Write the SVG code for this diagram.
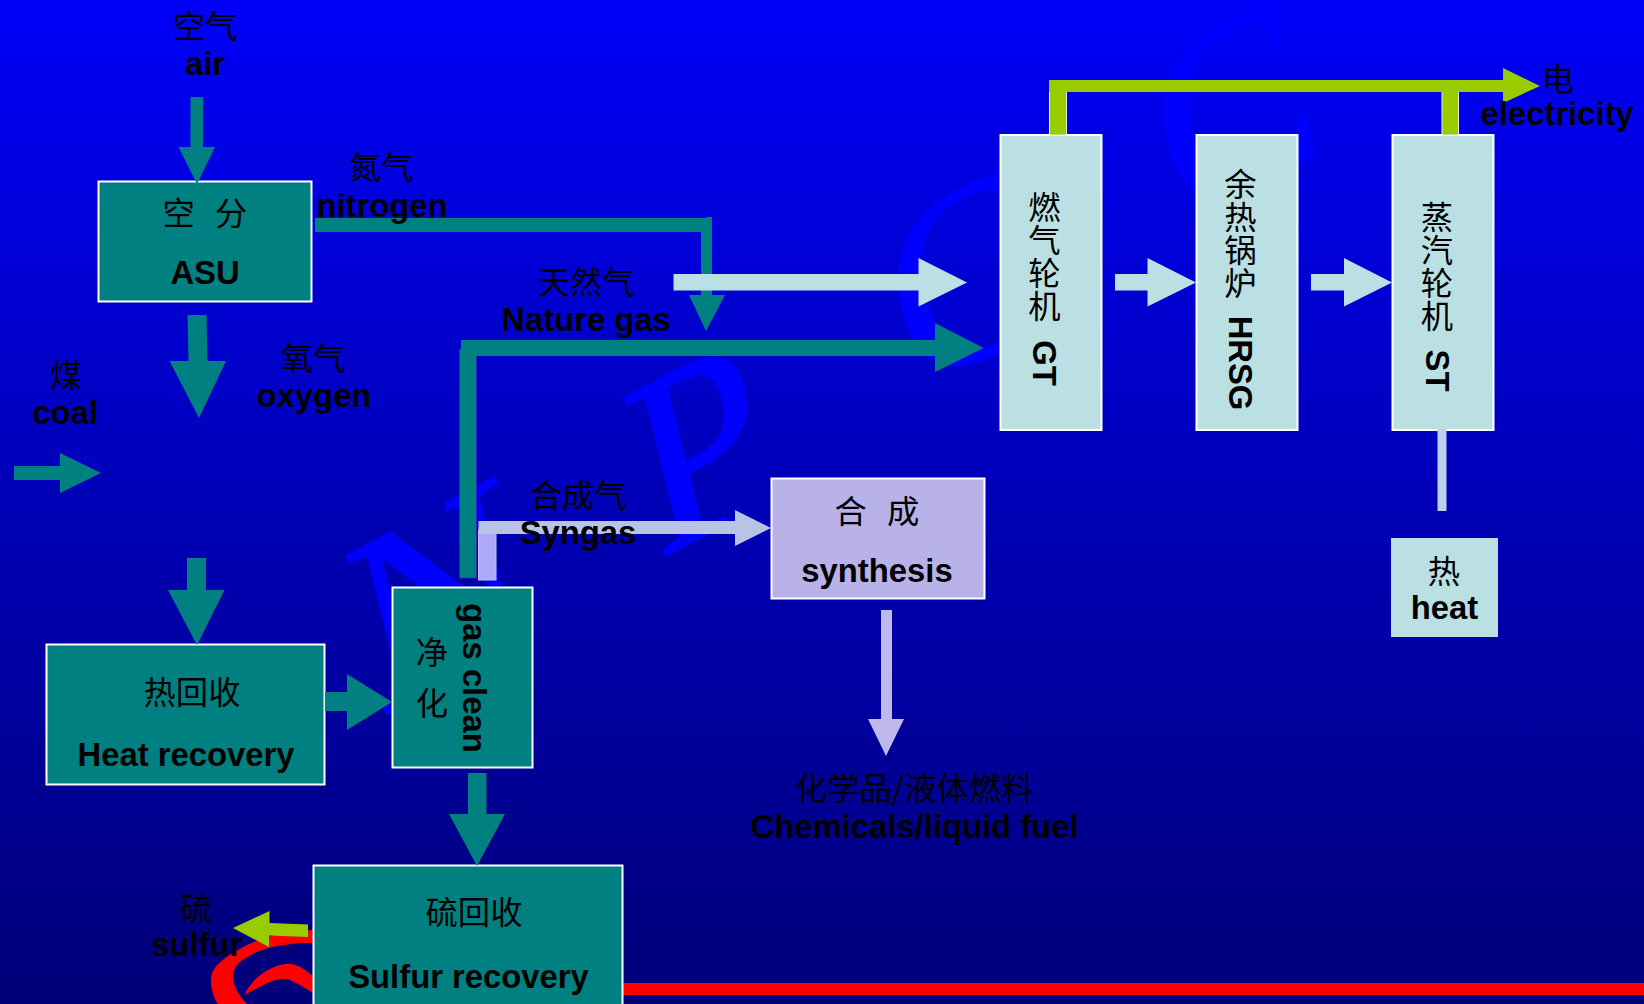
<svg xmlns="http://www.w3.org/2000/svg" width="1644" height="1004" viewBox="0 0 1644 1004">
<defs>
<linearGradient id="bg" x1="0" y1="0" x2="0" y2="1"><stop offset="0" stop-color="#0000f8"/><stop offset="1" stop-color="#000078"/></linearGradient>
</defs>
<style>
text{fill:#000;text-anchor:middle}
.en{font-family:"Liberation Sans",Arial,sans-serif;font-weight:700;font-size:32.8px}
.zh{font-family:"Noto Sans CJK SC","Noto Sans",sans-serif;font-size:32.3px;font-weight:400}
.vt{writing-mode:vertical-rl;text-anchor:start;letter-spacing:0.6px}
.wm{font-family:"Liberation Serif","Times New Roman",serif;font-size:250px;fill:#0000ff;stroke:#0000ff;stroke-width:2;text-anchor:start}
.box{stroke:#fff;stroke-width:2}
.teal{fill:#008080}
.pale{fill:#bbe0e3}
.lav{fill:#b9b2e8}
.green{fill:#99cc00}
.red{fill:#ff0000}
</style>
<rect width="1644" height="1004" fill="url(#bg)"/>
<g id="watermark">
<text class="wm" transform="matrix(0.883 -0.469 0.242 0.970 380 718)">N</text>
<text class="wm" transform="matrix(0.883 -0.469 0.242 0.970 658 560)">P</text>
<text class="wm" transform="matrix(0.883 -0.469 0.242 0.970 914 395)">C</text>
<text class="wm" transform="matrix(0.883 -0.469 0.242 0.970 1180 228)">C</text>
</g>
<g id="red-swirl">
<path class="red" d="M313 930C290 931 263 936 245 946C225 957 211 966 211 980C211 990 214 998 218 1004L247 1004C240 996 233 988 233 977C233 968 238 962 246 958C258 950 270 947 285 945C295 943 305 943 313 943Z"/>
<path class="red" d="M244 995C250 984 258 975 268 970C277 965 285 963 292 964C300 966 307 971 313 976L313 993C305 988 296 982 287 979C278 978 268 982 244 995Z"/>
<rect class="red" x="620" y="983" width="1024" height="12"/>
</g>
<g id="node-asu">
<rect class="box teal" x="98.5" y="181.5" width="213" height="120"/>
<text class="zh" x="205" y="225" word-spacing="13">空 分</text>
<text class="en" x="205" y="284">ASU</text>
</g>
<g id="node-heat-recovery">
<rect class="box teal" x="46.5" y="644.5" width="278" height="140"/>
<text class="zh" x="192" y="704">热回收</text>
<text class="en" x="186" y="766">Heat recovery</text>
</g>
<g id="node-gas-clean">
<rect class="box teal" x="392.5" y="587.5" width="140" height="180"/>
<text class="zh" x="432" y="664">净</text>
<text class="zh" x="432" y="715">化</text>
<text class="en" transform="translate(463 678) rotate(90)">gas clean</text>
</g>
<g id="node-sulfur-recovery">
<rect class="box teal" x="313.5" y="865.5" width="309" height="150"/>
<text class="zh" x="474" y="924">硫回收</text>
<text class="en" x="468.5" y="988">Sulfur recovery</text>
</g>
<g id="node-synthesis">
<rect class="box lav" x="771.5" y="478.5" width="213" height="120"/>
<text class="zh" x="877" y="523" word-spacing="13">合 成</text>
<text class="en" x="877" y="582">synthesis</text>
</g>
<g id="node-gt">
<rect class="box pale" x="1000.5" y="135" width="101" height="295"/>
<text class="zh vt" x="1044.5" y="191">燃气轮机</text>
<text class="en" transform="translate(1033 363) rotate(90)">GT</text>
</g>
<g id="node-hrsg">
<rect class="box pale" x="1196.5" y="135" width="101" height="295"/>
<text class="zh vt" x="1240.5" y="168">余热锅炉</text>
<text class="en" transform="translate(1229 363) rotate(90)">HRSG</text>
</g>
<g id="node-st">
<rect class="box pale" x="1392.5" y="135" width="101" height="295"/>
<text class="zh vt" x="1437" y="201">蒸汽轮机</text>
<text class="en" transform="translate(1426 370.5) rotate(90)">ST</text>
</g>
<g id="node-heat">
<rect class="pale" x="1391" y="538" width="107" height="99"/>
<text class="zh" x="1444" y="583">热</text>
<text class="en" x="1444.5" y="619">heat</text>
</g>
<g id="connectors">
<polygon class="teal" points="190.5,97 203,97 203,147 215,147 197,184 178.5,147 190.5,147"/>
<polygon class="teal" points="315,218 706,218 706,217 712,217 712,295 725,295 706,331 689,295 701,295 701,232 315,232"/>
<polygon class="teal" points="187.5,315 206.5,315 207.5,361 226,361 199,418 169.5,361 188.5,361"/>
<polygon class="teal" points="14,466 60,466 60,453 101,473 60,493 60,480 14,480"/>
<polygon class="teal" points="187,558 206,558 206,590 224.5,590 197,645 168,590 187,590"/>
<polygon class="teal" points="325,692 347,692 347,674 392,702 347,730 347,711 325,711"/>
<polygon class="teal" points="468,773 486.5,773 486.5,814 505,814 477,866 449,814 468,814"/>
<rect x="478.5" y="530" width="17.5" height="50" fill="#aca8fa" stroke="#c4c0f0" stroke-width="1"/>
<polygon fill="#b9c3e3" points="478.5,521 735,521 735,510 771,528 735,546 735,534 478.5,534"/>
<rect class="teal" x="459.5" y="349" width="17" height="229" stroke="#3a22cc" stroke-width="1"/>
<polygon class="teal" points="461,340 935,340 935,323 983.5,348 935,372 935,356 461,356"/>
<polygon class="pale" points="673.5,274 918.5,274 918.5,258 967,282.5 918.5,306.5 918.5,290.5 673.5,290.5"/>
<polygon class="pale" points="1115,274 1147.5,274 1147.5,258 1196,282.5 1147.5,306.5 1147.5,290.5 1115,290.5"/>
<polygon class="pale" points="1311,274 1344,274 1344,258 1392,282.5 1344,306.5 1344,290.5 1311,290.5"/>
<rect x="1437.5" y="429" width="9" height="82" fill="#bcd0ee"/>
<polygon fill="#bfb8ea" points="881,610 892,610 892,719 904,719 886,756 868,719 881,719"/>
<rect class="green" x="1049.5" y="85" width="17" height="50" stroke="#e8f0e0" stroke-width="1"/>
<rect class="green" x="1442" y="90" width="16.5" height="45" stroke="#e8f0e0" stroke-width="1"/>
<polygon class="green" points="1049,80 1503,80 1503,68 1540,86 1503,103 1503,92 1049,92"/>
<polygon class="green" points="308,924.5 269.5,923 269.5,911 233,928 269,947 269,935.5 308,937"/>
</g>
<g id="labels">
<text class="zh" x="205" y="37.5">空气</text>
<text class="en" x="205" y="75">air</text>
<text class="zh" x="381" y="178.5">氮气</text>
<text class="en" x="382" y="217">nitrogen</text>
<text class="zh" x="586" y="293.5">天然气</text>
<text class="en" x="586" y="331">Nature gas</text>
<text class="zh" x="313" y="369.5">氧气</text>
<text class="en" x="314" y="407">oxygen</text>
<text class="zh" x="66" y="386.5">煤</text>
<text class="en" x="65" y="424">coal</text>
<text class="zh" x="578" y="506.5">合成气</text>
<text class="en" x="578" y="544">Syngas</text>
<text class="zh" x="914" y="799.5">化学品/液体燃料</text>
<text class="en" x="914.5" y="838">Chemicals/liquid fuel</text>
<text class="zh" x="196" y="919.5">硫</text>
<text class="en" x="196.5" y="956">sulfur</text>
<text class="zh" x="1558" y="90.5">电</text>
<text class="en" x="1557" y="125">electricity</text>
</g>
</svg>
